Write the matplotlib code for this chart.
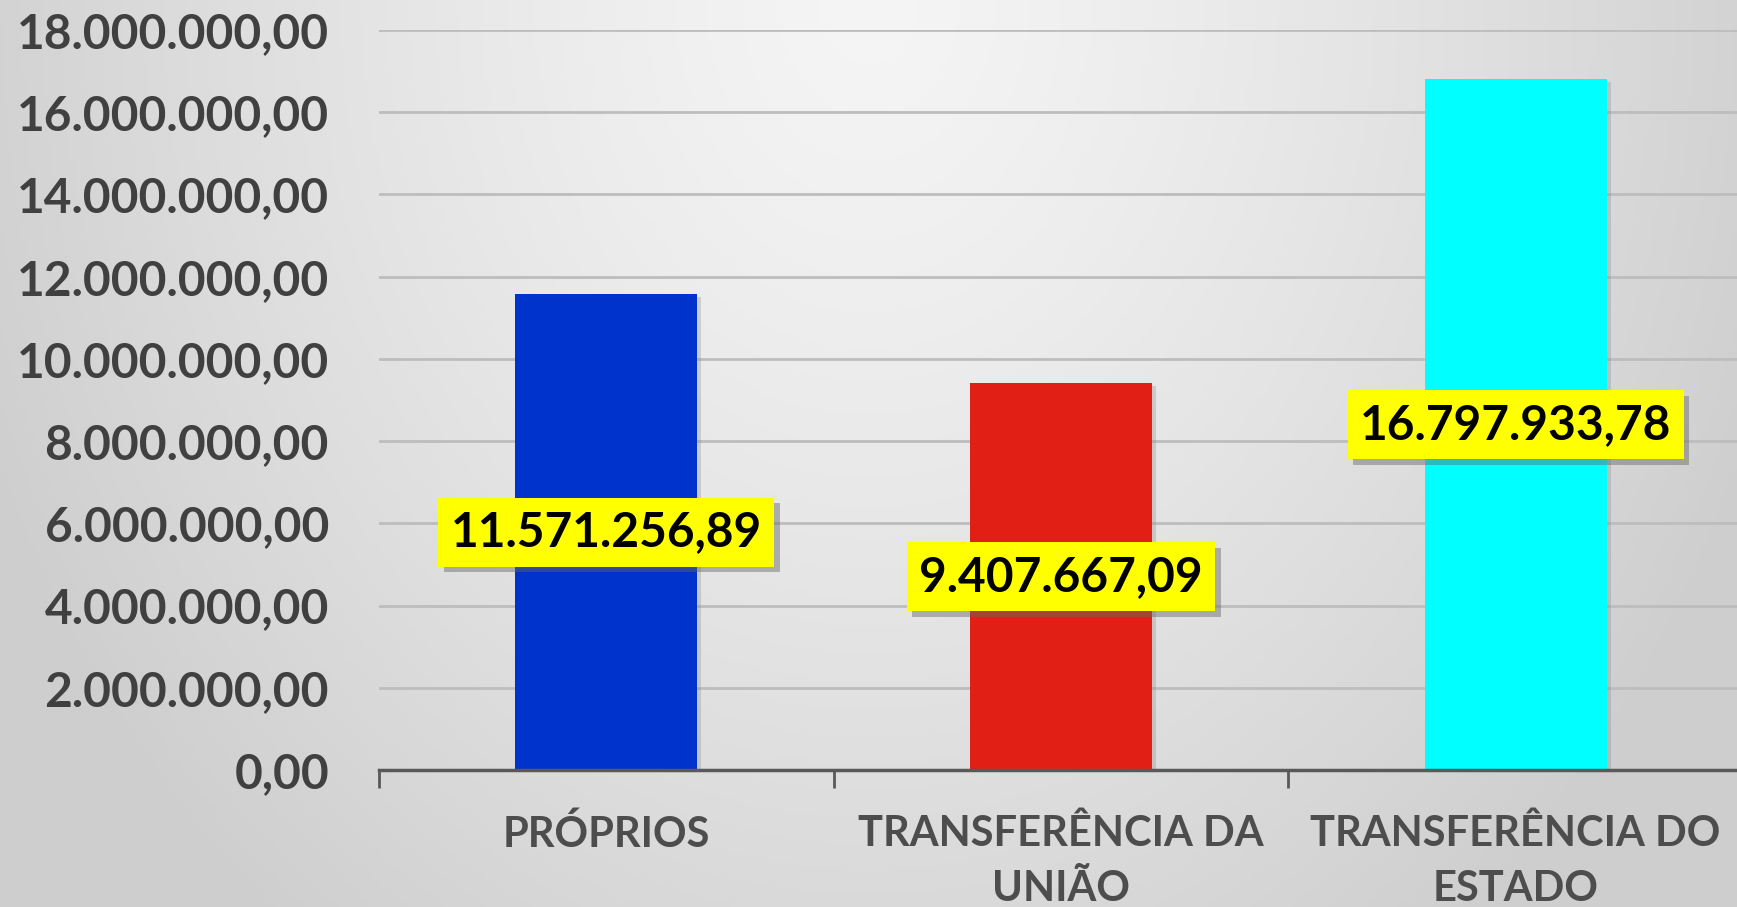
import matplotlib.pyplot as plt
import matplotlib.patheffects as pe
from matplotlib.ticker import FuncFormatter, FixedLocator
import numpy as np

categorias = ["PRÓPRIOS", "TRANSFERÊNCIA DA\nUNIÃO", "TRANSFERÊNCIA DO\nESTADO"]
valores = [11571256.89, 9407667.09, 16797933.78]
rotulos = ["11.571.256,89", "9.407.667,09", "16.797.933,78"]
cores = ["#0033cc", "#e21f14", "#00ffff"]
y_ticks = [0, 2e6, 4e6, 6e6, 8e6, 10e6, 12e6, 14e6, 16e6, 18e6]


def fmt_br(v, pos=None):
    s = f"{v:,.2f}"
    return s.replace(",", "X").replace(".", ",").replace("X", ".")


fig = plt.figure(figsize=(17.37, 9.07), dpi=100)

# fundo com gradiente radial (claro no topo ao centro)
bg = fig.add_axes([0, 0, 1, 1], zorder=-10)
xx, yy = np.meshgrid(np.linspace(-1, 1, 400), np.linspace(0, 1, 200))
d = np.sqrt((xx / 1.1) ** 2 + (yy / 1.3) ** 2)
d = np.clip(d, 0, 1)
g = 0.96 - 0.15 * d ** 1.3
bg.imshow(np.dstack([g, g, g]), aspect="auto", extent=[0, 1, 0, 1], origin="upper")
bg.axis("off")

ax = fig.add_axes([379 / 1737, 137 / 907, 1364 / 1737, 740 / 907])
ax.patch.set_alpha(0)

x = np.arange(len(categorias))
barras = ax.bar(x, valores, width=0.40, color=cores, zorder=3)
for b in barras:
    b.set_path_effects([pe.SimplePatchShadow(offset=(3, -2), shadow_rgbFace="#888888", alpha=0.3), pe.Normal()])

ax.set_xlim(-0.5, 2.5)
ax.set_ylim(0, 18e6)
ax.set_yticks(y_ticks)
ax.yaxis.set_major_formatter(FuncFormatter(fmt_br))
ax.yaxis.grid(True, color="#bdbdbd", linewidth=2, zorder=0)
ax.set_axisbelow(True)

for sp in ["top", "right", "left"]:
    ax.spines[sp].set_visible(False)
ax.spines["bottom"].set_color("#595959")
ax.spines["bottom"].set_linewidth(2.5)
ax.spines["bottom"].set_zorder(4)

ax.tick_params(axis="y", length=0, pad=36, labelsize=34.5, labelcolor="#404040")
for t in ax.get_yticklabels():
    t.set_fontfamily("Lato")
    t.set_fontweight("bold")

ax.set_xticks(x)
ax.set_xticklabels(categorias, fontsize=30, color="#4d4d4d", fontweight="bold",
                   family="Lato", linespacing=1.55)
ax.tick_params(axis="x", which="major", length=0, pad=32)
ax.xaxis.set_minor_locator(FixedLocator([-0.5, 0.5, 1.5, 2.5]))
ax.tick_params(axis="x", which="minor", length=13, width=2, color="#595959", direction="out")

for xi, v, lab in zip(x, valores, rotulos):
    t = ax.text(xi, v / 2, lab, ha="center", va="center", fontsize=34.5,
                fontweight="bold", family="Lato", color="black", zorder=5,
                bbox=dict(boxstyle="square,pad=0.26", facecolor="#ffff00", edgecolor="none"))
    t.get_bbox_patch().set_path_effects([pe.SimplePatchShadow(offset=(4, -4), shadow_rgbFace="#666666", alpha=0.45), pe.Normal()])

fig.savefig("out.png", dpi=100)
